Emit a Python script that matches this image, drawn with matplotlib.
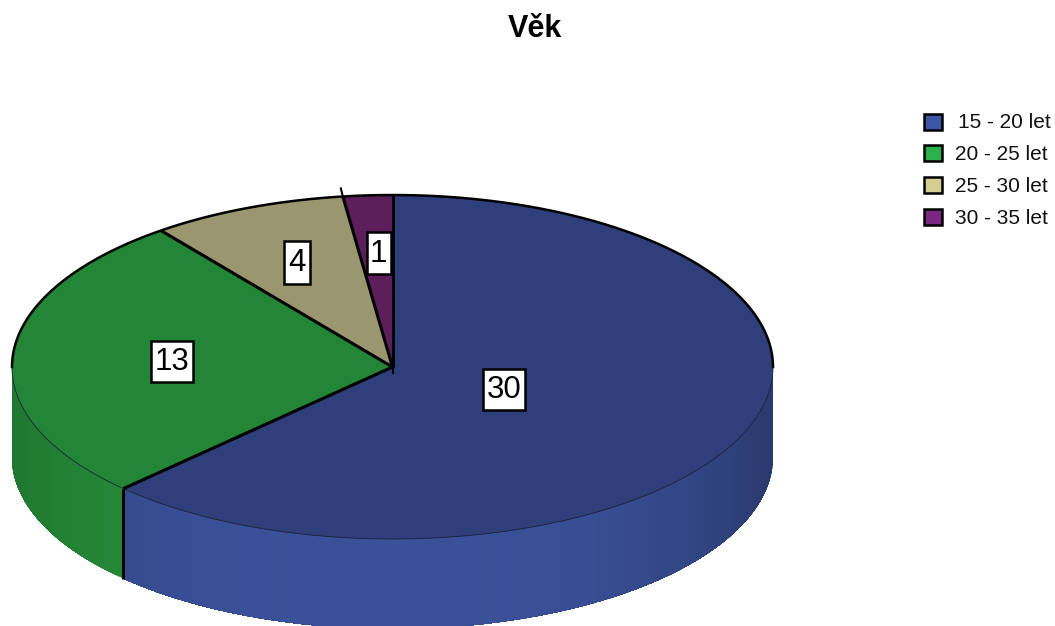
import numpy as np
import matplotlib
matplotlib.use('Agg')
import matplotlib.pyplot as plt
from matplotlib.patches import Polygon, Rectangle

plt.rcParams['font.family'] = ['Liberation Sans', 'DejaVu Sans']

# data
categories = ['15 - 20 let', '20 - 25 let', '25 - 30 let', '30 - 35 let']
values = [30, 13, 4, 1]

# colours
top_colors = ['#2f3f7c', '#238636', '#9a9670', '#5c1f5c']
side_colors = ['#3a5098', '#27903a', '#b0ac80', '#6a2468']
legend_colors = ['#3c55a5', '#2bb04a', '#d3cd8f', '#7b2680']

# pie geometry in pixels
cx, cy = 392.5, 367
rx, ry = 380.5, 172
depth = 90

fig = plt.figure(figsize=(10.55, 6.26), dpi=100)
ax = fig.add_axes([0, 0, 1, 1])
ax.set_xlim(0, 1055)
ax.set_ylim(626, 0)
ax.axis('off')


def rim(t):
    # t in degrees, clockwise from the top
    r = np.radians(t)
    return cx + rx * np.sin(r), cy - ry * np.cos(r)


def darker(col, f):
    return tuple(c * f for c in matplotlib.colors.to_rgb(col))


edges = np.concatenate([[0], np.cumsum(values) / sum(values) * 360])

# side wall, only the front half (90..270 deg) shows
# each strip runs on to the end of the slice so the next one paints over it, no seams
for i in range(len(values)):
    a = max(edges[i], 90)
    b = min(edges[i + 1], 270)
    if a >= b:
        continue
    steps = np.linspace(a, b, int(b - a) + 2)
    for t0, t1 in zip(steps[:-1], steps[1:]):
        arc = np.linspace(t0, b, max(int(b - t0) * 2, 2) + 1)
        xs, ys = rim(arc)
        mid = rim((t0 + t1) / 2)[0]
        d = abs(mid - cx) / rx
        # right side falls off harder than the left
        amount = 0.28 if mid > cx else 0.17
        col = darker(side_colors[i], 1 - amount * d ** 3)
        pts = np.column_stack([np.r_[xs, xs[::-1]], np.r_[ys, ys[::-1] + depth]])
        ax.add_patch(Polygon(pts, closed=True, fc=col, ec='none', zorder=1))

# top surface
for i in range(len(values)):
    t = np.linspace(edges[i], edges[i + 1], 200)
    xs, ys = rim(t)
    pts = np.column_stack([np.r_[cx, xs], np.r_[cy, ys]])
    ax.add_patch(Polygon(pts, closed=True, fc=top_colors[i], ec='none', zorder=2))

# rim lines: thick along the back, hairline along the front
t = np.linspace(-90, 90, 400)
ax.plot(*rim(t), color='black', lw=1.8, zorder=3)
t = np.linspace(90, 270, 400)
ax.plot(*rim(t), color='#1a2238', lw=0.6, zorder=3)

# spokes between the slices
for e in edges[:-1]:
    x, y = rim(e)
    ax.plot([cx, x], [cy, y], color='black', lw=2.2, zorder=4, solid_capstyle='butt')
    # front seam goes down the wall
    if 90 < e < 270:
        ax.plot([x, x], [y, y + depth], color='black', lw=2.2, zorder=4, solid_capstyle='butt')
x, y = rim(edges[3])
ax.plot([x, x - 2], [y, y - 8], color='black', lw=1.5, zorder=4)
ax.plot([cx, cx], [cy, cy + 6], color='black', lw=1.5, zorder=4)

# value labels
label_x = [504, 172, 297, 378.5]
label_y = [389.5, 361, 262, 252.5]
label_w = [42, 42, 26, 24]
label_h = [41, 41, 43, 42]
for v, x, y, w, h in zip(values, label_x, label_y, label_w, label_h):
    ax.add_patch(Rectangle((x - w / 2, y - h / 2), w, h, fc='white', ec='black', lw=1.8, zorder=5))
    ax.text(x, y + 1, str(v), ha='center', va='center', fontsize=22.5, color='black', zorder=6)

# title
ax.text(535, 29, 'Věk', ha='center', va='center', fontsize=22, fontweight='bold', color='black')

# legend
legend_text_x = [958, 955, 955, 955]
for i, name in enumerate(categories):
    y = 121.5 + i * 31.7
    ax.add_patch(Rectangle((924, y - 8), 17.5, 16, fc=legend_colors[i], ec='black', lw=1.8))
    ax.text(legend_text_x[i], 122 + i * 32, name, ha='left', va='center', fontsize=15, color='#111111')

fig.savefig('out.png', dpi=100)
